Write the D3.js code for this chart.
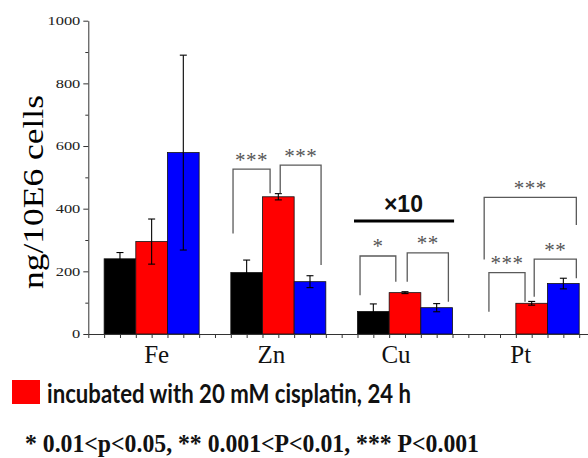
<!DOCTYPE html>
<html>
<head>
<meta charset="utf-8">
<script src="https://d3js.org/d3.v7.min.js"></script>
<style>
  body { margin: 0; background: #fff; }
  svg { display: block; }
</style>
</head>
<body>
<div id="chart"></div>
<script>
    // data (ng per 10E6 cells, Cu and Pt are x10)
    var categories = ["Fe", "Zn", "Cu", "Pt"];
    var controlValues = [240, 196, 72, null];
    var controlErrors = [20, 40, 24, null];
    var cisplatinValues = [295, 438, 132, 98];
    var cisplatinErrors = [72, 10, 3, 6];
    var otherValues = [579, 167, 84, 161];
    var otherErrors = [311, 19, 13, 17];
    var yTicks = [0, 200, 400, 600, 800, 1000];
    var yMinorTicks = [100, 300, 500, 700, 900];

    // significance brackets: category, left/right offset inside group (bar units),
    // top value, left leg end, right leg end, stars
    var bracketCategory = ["Zn", "Zn", "Cu", "Cu", "Pt", "Pt", "Pt"];
    var bracketFrom = [0.07, 1.56, 0.08, 1.57, 0.15, 1.58, 0.0];
    var bracketTo = [1.24, 2.85, 1.21, 2.87, 1.29, 2.91, 2.91];
    var bracketTop = [526, 539, 249, 259, 196, 239, 436];
    var bracketLeftEnd = [321, 449, 124, 167, 71, 119, 238];
    var bracketRightEnd = [449, 220, 167, 103, 103, 178, 348];
    var bracketStars = ["***", "***", "*", "**", "***", "**", "***"];

    function init() {
      var w = 588;
      var h = 458;
      var x0 = 88.3;
      var yBase = 334;
      var serif = "Liberation Serif, Times New Roman, serif";

      var series = [
        { values: controlValues, errors: controlErrors, color: "#000000" },
        { values: cisplatinValues, errors: cisplatinErrors, color: "#ff0000" },
        { values: otherValues, errors: otherErrors, color: "#0000ff" }
      ];

      // x in "bar units": one bar = 1, groups every 4 units starting at 0.5
      var xScale = d3.scaleLinear()
        .domain([0, 16])
        .range([x0, x0 + 16 * 31.67]);

      var yScale = d3.scaleLinear()
        .domain([0, 1000])
        .range([yBase, 20.7]);

      function groupStart(i) { return 0.5 + i * 4; }

      var svg = d3.select("#chart")
        .append("svg")
        .attr("width", w)
        .attr("height", h);

      // bars
      series.forEach(function(s, si) {
        var rows = categories.map(function(c, i) {
          return { i: i, v: s.values[i], e: s.errors[i] };
        }).filter(function(d) { return d.v != null; });

        svg.append("g").selectAll("rect")
          .data(rows)
          .enter()
          .append("rect")
          .attr("x", d => xScale(groupStart(d.i) + si))
          .attr("y", d => yScale(d.v))
          .attr("width", xScale(1) - xScale(0))
          .attr("height", d => yScale(0) - yScale(d.v))
          .attr("fill", s.color)
          .attr("stroke", "#111")
          .attr("stroke-width", 0.8);

        // error bars
        var eg = svg.append("g")
          .attr("stroke", "#000")
          .attr("stroke-width", 1.1);
        rows.forEach(function(d) {
          var cx = xScale(groupStart(d.i) + si + 0.5);
          var top = yScale(d.v + d.e);
          var bot = yScale(d.v - d.e);
          eg.append("line").attr("x1", cx).attr("x2", cx).attr("y1", top).attr("y2", bot);
          eg.append("line").attr("x1", cx - 3.5).attr("x2", cx + 3.5).attr("y1", top).attr("y2", top);
          eg.append("line").attr("x1", cx - 3.5).attr("x2", cx + 3.5).attr("y1", bot).attr("y2", bot);
        });
      });

      // y axis
      var yAxis = d3.axisLeft(yScale)
        .tickValues(yTicks)
        .tickSize(5)
        .tickSizeOuter(0)
        .tickFormat(d3.format("d"));
      var gy = svg.append("g")
        .attr("transform", `translate(${x0},0)`)
        .call(yAxis);
      gy.selectAll("text")
        .attr("font-family", serif)
        .attr("font-size", 12)
        .attr("fill", "#222")
        .attr("textLength", d => String(d).length * 8.2)
        .attr("lengthAdjust", "spacingAndGlyphs");
      svg.append("g")
        .attr("transform", `translate(${x0},0)`)
        .call(d3.axisLeft(yScale).tickValues(yMinorTicks).tickSize(3).tickFormat(""))
        .select(".domain").remove();
      svg.selectAll(".domain, .tick line").attr("stroke", "#333");

      // x axis with a tick every half bar
      var xAxis = d3.axisBottom(xScale)
        .tickValues(d3.range(0, 16.01, 0.5))
        .tickSize(4)
        .tickSizeOuter(0)
        .tickFormat("");
      var gx = svg.append("g")
        .attr("transform", `translate(0,${yBase})`)
        .call(xAxis);
      gx.selectAll("line, path").attr("stroke", "#333");

      // category labels
      var labelNudge = [5, -7, -9, -11];
      svg.append("g").selectAll("text")
        .data(categories)
        .enter()
        .append("text")
        .attr("x", (d, i) => xScale(groupStart(i) + 1.5) + labelNudge[i])
        .attr("y", 362.5)
        .attr("text-anchor", "middle")
        .attr("font-family", serif)
        .attr("font-size", 25)
        .attr("fill", "#111")
        .text(d => d);

      // y axis title
      svg.append("text")
        .attr("transform", "translate(43,192) rotate(-90)")
        .attr("text-anchor", "middle")
        .attr("font-family", serif)
        .attr("font-size", 29)
        .attr("textLength", 194)
        .attr("lengthAdjust", "spacingAndGlyphs")
        .attr("fill", "#000")
        .text("ng/10E6 cells");

      // significance brackets
      var bg = svg.append("g");
      bracketCategory.forEach(function(c, k) {
        var gi = categories.indexOf(c);
        var xl = xScale(groupStart(gi) + bracketFrom[k]);
        var xr = xScale(groupStart(gi) + bracketTo[k]);
        var yt = yScale(bracketTop[k]);
        var pts = [[xl, yScale(bracketLeftEnd[k])], [xl, yt], [xr, yt], [xr, yScale(bracketRightEnd[k])]];
        bg.append("path")
          .attr("d", d3.line()(pts))
          .attr("fill", "none")
          .attr("stroke", "#5a5a5a")
          .attr("stroke-width", 1.3);
        bg.append("text")
          .attr("x", (xl + xr) / 2)
          .attr("y", yt - 2.5)
          .attr("text-anchor", "middle")
          .attr("font-family", serif)
          .attr("font-size", 21)
          .attr("letter-spacing", 0.5)
          .attr("fill", "#555")
          .text(bracketStars[k]);
      });

      // x10 note for Cu
      var ci = categories.indexOf("Cu");
      svg.append("line")
        .attr("x1", xScale(groupStart(ci) - 0.11))
        .attr("x2", xScale(groupStart(ci) + 3.05))
        .attr("y1", yScale(361))
        .attr("y2", yScale(361))
        .attr("stroke", "#000")
        .attr("stroke-width", 3);
      svg.append("text")
        .attr("x", xScale(groupStart(ci) + 1.45))
        .attr("y", 211.5)
        .attr("text-anchor", "middle")
        .attr("font-family", "Liberation Sans, Arial, sans-serif")
        .attr("font-weight", "bold")
        .attr("font-size", 23)
        .attr("fill", "#111")
        .text("\u00d710");

      // legend
      svg.append("rect")
        .attr("x", 12)
        .attr("y", 380)
        .attr("width", 28)
        .attr("height", 24)
        .attr("fill", "#ff0000");
      svg.append("text")
        .attr("x", 47)
        .attr("y", 403)
        .attr("font-family", "Lato, Open Sans, sans-serif")
        .attr("font-weight", "bold")
        .attr("font-size", 26)
        .attr("textLength", 364)
        .attr("lengthAdjust", "spacingAndGlyphs")
        .attr("fill", "#111")
        .text("incubated with 20 mM cisplatin, 24 h");

      svg.append("text")
        .attr("x", 25)
        .attr("y", 452)
        .attr("font-family", serif)
        .attr("font-weight", "bold")
        .attr("font-size", 26)
        .attr("textLength", 454)
        .attr("lengthAdjust", "spacingAndGlyphs")
        .attr("fill", "#111")
        .text("* 0.01<p<0.05, ** 0.001<P<0.01, *** P<0.001");
    }

    window.onload = init;
</script>
</body>
</html>
